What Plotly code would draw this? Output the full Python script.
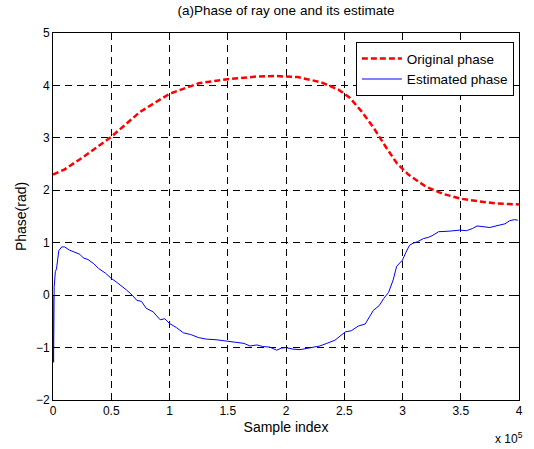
import plotly.graph_objects as go

# Original phase (red dashed)
orig_x = [0, 0.1, 0.25, 0.5, 0.75, 1.0, 1.25, 1.5, 1.75, 1.9, 2.1, 2.3, 2.45, 2.55, 2.65, 2.75, 2.85, 2.95, 3.05, 3.2, 3.35, 3.5, 3.65, 3.8, 4.0]
orig_y = [2.3, 2.4, 2.62, 3.02, 3.5, 3.84, 4.04, 4.12, 4.17, 4.18, 4.16, 4.06, 3.92, 3.76, 3.5, 3.2, 2.85, 2.52, 2.3, 2.07, 1.93, 1.84, 1.79, 1.75, 1.73]

# Estimated phase (blue solid)
est_x = [0, 0.005, 0.01, 0.02, 0.03, 0.05, 0.075, 0.1, 0.14, 0.17, 0.2, 0.23, 0.26, 0.3, 0.35, 0.39, 0.45, 0.5, 0.55, 0.6, 0.63, 0.68, 0.72, 0.76, 0.8, 0.86, 0.92, 0.96, 1.0,
         1.06, 1.12, 1.18, 1.25, 1.32, 1.4, 1.5, 1.58, 1.64, 1.69, 1.75, 1.8, 1.86, 1.92, 1.96, 2.0, 2.06, 2.12, 2.2, 2.29, 2.35, 2.42, 2.51, 2.56, 2.62, 2.68,
         2.72, 2.75, 2.8, 2.84, 2.88, 2.92, 2.95, 2.97, 3.0, 3.03, 3.06, 3.09, 3.13, 3.18, 3.22, 3.26, 3.31, 3.4, 3.49, 3.55, 3.6, 3.64, 3.7, 3.75, 3.82, 3.88, 3.92, 3.96, 3.99]
est_y = [0.0, -1.28, 0.15, 0.45, 0.5, 0.85, 0.92, 0.92, 0.86, 0.83, 0.8, 0.78, 0.71, 0.68, 0.6, 0.51, 0.42, 0.32, 0.24, 0.16, 0.1, 0.0, -0.1, -0.12, -0.25, -0.32, -0.47, -0.45, -0.54,
         -0.62, -0.72, -0.75, -0.81, -0.84, -0.85, -0.88, -0.9, -0.92, -0.97, -0.95, -0.98, -0.99, -1.05, -1.01, -1.0, -1.03, -1.04, -1.01, -0.97, -0.92, -0.86, -0.7, -0.68, -0.59, -0.55,
         -0.4, -0.29, -0.2, -0.06, 0.05, 0.29, 0.55, 0.6, 0.67, 0.82, 0.95, 0.99, 1.02, 1.08, 1.1, 1.14, 1.21, 1.22, 1.24, 1.23, 1.27, 1.32, 1.31, 1.29, 1.33, 1.36, 1.42, 1.44, 1.43]

x_ticks = [0, 0.5, 1, 1.5, 2, 2.5, 3, 3.5, 4]
x_tick_labels = ["0", "0.5", "1", "1.5", "2", "2.5", "3", "3.5", "4"]
y_ticks = [-2, -1, 0, 1, 2, 3, 4, 5]

scale = 1e5

fig = go.Figure()
fig.add_trace(go.Scatter(x=[v * scale for v in orig_x], y=orig_y, mode="lines", name="Original phase",
                         line=dict(color="#ff0000", width=2.5, dash="6px,3px")))
fig.add_trace(go.Scatter(x=[v * scale for v in est_x], y=est_y, mode="lines", name="Estimated phase",
                         line=dict(color="#0000ff", width=1)))

font = dict(family="Liberation Sans, Arial", size=12, color="black")
fig.update_layout(
    width=534, height=449,
    margin=dict(l=53, r=15, t=33, b=49),
    paper_bgcolor="white", plot_bgcolor="white",
    font=font,
    title=dict(text="(a)Phase of ray one and its estimate", x=0.5, xref="paper", y=1, yref="container",
               yanchor="top", pad=dict(t=6), font=dict(family="Liberation Sans, Arial", size=13.5, color="black")),
    showlegend=True,
    legend=dict(x=0.989, y=0.975, xanchor="right", yanchor="top", bgcolor="white",
                bordercolor="black", borderwidth=1, font=dict(size=13.5),
                tracegroupgap=0, itemwidth=40),
    xaxis=dict(range=[0, 4 * scale], tickvals=[v * scale for v in x_ticks], ticktext=x_tick_labels,
               showgrid=True, gridcolor="black", griddash="7px,5px", gridwidth=0.8,
               showline=True, linecolor="black", linewidth=1, mirror="ticks",
               ticks="inside", ticklen=5, tickcolor="black", zeroline=False,
               title=dict(text="Sample index", standoff=4)),
    yaxis=dict(range=[-2, 5], tickvals=y_ticks,
               showgrid=True, gridcolor="black", griddash="7px,5px", gridwidth=0.8,
               showline=True, linecolor="black", linewidth=1, mirror="ticks",
               ticks="inside", ticklen=5, tickcolor="black", zeroline=False,
               title=dict(text="Phase(rad)", standoff=6)),
)
fig.add_annotation(text="x 10<sup>5</sup>", xref="paper", yref="paper", x=1.0, y=0, xanchor="right",
                   yanchor="top", xshift=6, yshift=-28, showarrow=False, font=dict(size=12))
fig.write_html("out.html")
